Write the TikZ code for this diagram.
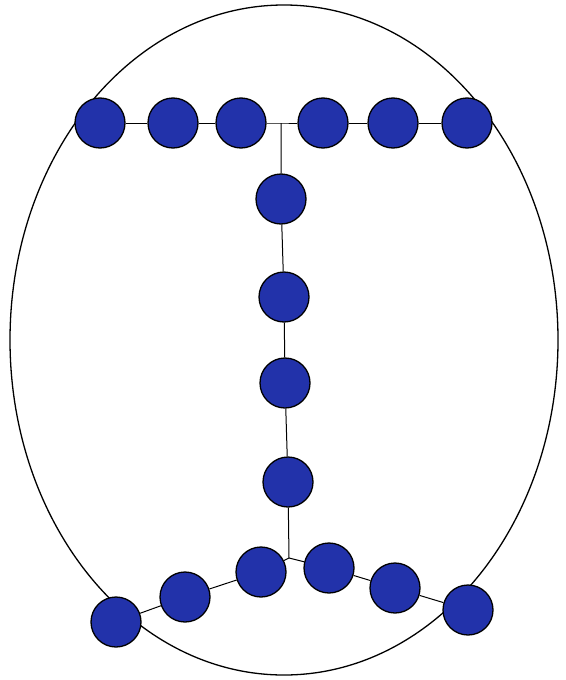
\documentclass[tikz,border=0pt]{standalone}
\definecolor{beadblue}{RGB}{34,50,170}
\begin{document}
\begin{tikzpicture}[x=1pt, y=-1pt,
    bead/.style={circle, draw=black, line width=1.3pt, fill=beadblue, minimum size=50pt, inner sep=0pt},
    link/.style={black, line width=1pt}]
    % Page area (565 x 680, y grows downwards)
    \useasboundingbox (0,0) rectangle (565,680);

    % Outer egg-shaped outline
    \draw[black, line width=1.3pt] (284,340) ellipse (274 and 335);

    % Top row of beads
    \foreach \i/\x in {1/100, 2/173, 3/241, 4/323, 5/393, 6/467}
        \node[bead] (t\i) at (\x,123) {};

    % Branch points
    \coordinate (top) at (281,123);
    \coordinate (low) at (289,558);

    % Vertical stem
    \foreach \i/\x/\y in {1/281/199, 2/284/297, 3/285/383, 4/288/482}
        \node[bead] (s\i) at (\x,\y) {};

    % Bottom arms (left and right)
    \foreach \i/\x/\y in {1/261/572, 2/185/597, 3/116/622}
        \node[bead] (l\i) at (\x,\y) {};
    \foreach \i/\x/\y in {1/329/568, 2/395/588, 3/468/610}
        \node[bead] (r\i) at (\x,\y) {};

    % Links between beads
    \draw[link] (t1) -- (t2) -- (t3) -- (top) -- (t4) -- (t5) -- (t6);
    \draw[link] (top) -- (s1) -- (s2) -- (s3) -- (s4) -- (low);
    \draw[link] (low) -- (l1) -- (l2) -- (l3);
    \draw[link] (low) -- (r1) -- (r2) -- (r3);
\end{tikzpicture}
\end{document}
